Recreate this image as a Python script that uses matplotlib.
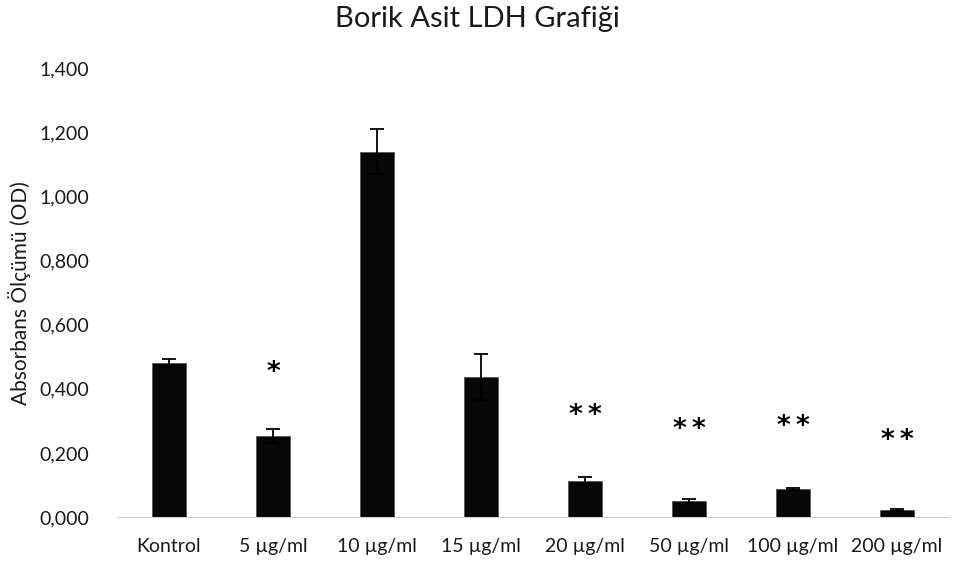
import numpy as np
import matplotlib.pyplot as plt
from matplotlib.ticker import FuncFormatter

plt.rcParams['font.family'] = ['Lato', 'DejaVu Sans']

categories = ['Kontrol', '5 µg/ml', '10 µg/ml', '15 µg/ml', '20 µg/ml',
              '50 µg/ml', '100 µg/ml', '200 µg/ml']
values = [0.480, 0.253, 1.139, 0.437, 0.113, 0.050, 0.087, 0.022]
errors = [0.013, 0.022, 0.070, 0.071, 0.013, 0.005, 0.004, 0.003]
stars = [0, 1, 0, 0, 2, 2, 2, 2]
star_y = [0, 0.45, 0, 0, 0.316, 0.272, 0.282, 0.238]

fig = plt.figure(figsize=(9.54, 5.72), dpi=100)
ax = fig.add_axes([0.1226, 0.096, 0.8722, 0.785])

X = np.arange(len(categories))
ax.bar(X, values, width=0.32, color='#070707', edgecolor='#555555', linewidth=0.6,
       yerr=errors, capsize=4.7, error_kw=dict(ecolor='black', elinewidth=1.3, capthick=1.3))

# significance stars, two stars sit a little apart
for i in range(len(categories)):
    if stars[i] == 1:
        offsets = [0]
    elif stars[i] == 2:
        offsets = [-0.09, 0.09]
    else:
        offsets = []
    for d in offsets:
        ax.text(X[i] + d, star_y[i], '*', ha='center', va='center',
                fontsize=19, fontweight='bold', color='black',
                family=['DejaVu Sans'])

ax.set_xlim(-0.5, len(categories) - 0.5)
ax.set_ylim(0, 1.4)
ax.set_yticks(np.arange(0, 1.41, 0.2))
ax.yaxis.set_major_formatter(FuncFormatter(lambda v, p: ('%.3f' % v).replace('.', ',')))
ax.set_xticks(X)
ax.set_xticklabels(categories)

for s in ['top', 'right', 'left']:
    ax.spines[s].set_visible(False)
ax.spines['bottom'].set_color('#d0d0d0')
ax.tick_params(axis='both', length=0, labelsize=14, colors='#1a1a1a')
ax.tick_params(axis='x', pad=15)
ax.tick_params(axis='y', pad=20)

ax.set_ylabel('Absorbans Ölçümü (OD)', fontsize=15, color='#1a1a1a', labelpad=6)
fig.suptitle('Borik Asit LDH Grafiği', fontsize=21, y=0.99, color='#1a1a1a')

plt.savefig('out.png', dpi=100)
